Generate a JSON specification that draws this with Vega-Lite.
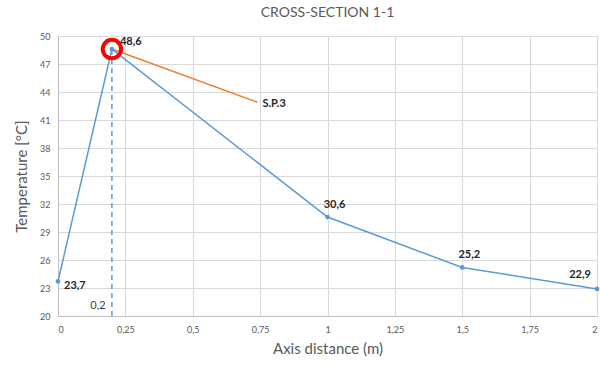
{
  "$schema": "https://vega.github.io/schema/vega-lite/v6.json",
  "width": 539,
  "height": 280,
  "autosize": {"type": "none"},
  "padding": {"left": 58, "top": 36, "right": 3, "bottom": 49},
  "background": "white",
  "title": {"text": "CROSS-SECTION 1-1", "fontSize": 14, "font": "Lato", "fontWeight": "normal", "color": "#595959", "offset": 12},
  "datasets": {
    "main": [
      {"x": 0, "t": 23.7},
      {"x": 0.2, "t": 48.6},
      {"x": 1, "t": 30.6},
      {"x": 1.5, "t": 25.2},
      {"x": 2, "t": 22.9}
    ],
    "sp": [
      {"x": 0.2, "t": 48.6, "name": ""},
      {"x": 0.74, "t": 42.9, "name": "S.P.3"}
    ],
    "dash": [
      {"x": 0.2, "t0": 20, "t1": 48.6, "name": "0,2"}
    ]
  },
  "encoding": {
    "x": {"field": "x", "type": "quantitative", "scale": {"domain": [0, 2], "nice": false},
      "axis": {"title": "Axis distance (m)", "values": [0, 0.25, 0.5, 0.75, 1, 1.25, 1.5, 1.75, 2], "format": ".2~f", "labelPadding": 9, "titlePadding": 7}},
    "y": {"field": "t", "type": "quantitative", "scale": {"domain": [20, 50], "nice": false, "zero": false},
      "axis": {"title": "Temperature [°C]", "values": [20, 23, 26, 29, 32, 35, 38, 41, 44, 47, 50], "labelPadding": 8, "titlePadding": 10}}
  },
  "layer": [
    {
      "data": {"name": "dash"},
      "mark": {"type": "rule", "color": "#5b9bd5", "strokeWidth": 1.5, "strokeDash": [5, 4]},
      "encoding": {"y": {"field": "t0", "type": "quantitative"}, "y2": {"field": "t1"}}
    },
    {
      "data": {"name": "dash"},
      "mark": {"type": "text", "font": "Lato", "fontSize": 11, "color": "#404040", "align": "center", "dx": -14, "dy": -10},
      "encoding": {"y": {"field": "t0", "type": "quantitative"}, "text": {"field": "name"}}
    },
    {
      "data": {"name": "sp"},
      "mark": {"type": "line", "color": "#ed7d31", "strokeWidth": 1.5}
    },
    {
      "data": {"name": "sp"},
      "mark": {"type": "text", "font": "Lato", "fontSize": 11, "fontWeight": "bold", "color": "#262626", "align": "left", "dx": 5, "dy": 2},
      "encoding": {"text": {"field": "name"}}
    },
    {
      "data": {"name": "main"},
      "mark": {"type": "line", "color": "#5b9bd5", "strokeWidth": 1.5, "point": {"filled": true, "size": 22, "color": "#5b9bd5"}}
    },
    {
      "data": {"name": "main"},
      "transform": [{"filter": "datum.x == 0.2"}],
      "mark": {"type": "point", "shape": "circle", "filled": false, "stroke": "#ff0000", "strokeWidth": 4, "size": 340, "opacity": 1}
    },
    {
      "data": {"name": "main"},
      "transform": [{"filter": "datum.x == 0.2"}],
      "mark": {"type": "text", "font": "Lato", "fontSize": 11, "fontWeight": "bold", "color": "#262626", "align": "left", "dx": 8, "dy": -7},
      "encoding": {"text": {"field": "t", "type": "quantitative", "format": ".1f"}}
    },
    {
      "data": {"name": "main"},
      "transform": [{"filter": "datum.x == 0"}],
      "mark": {"type": "text", "font": "Lato", "fontSize": 11, "fontWeight": "bold", "color": "#262626", "align": "left", "dx": 6, "dy": 5},
      "encoding": {"text": {"field": "t", "type": "quantitative", "format": ".1f"}}
    },
    {
      "data": {"name": "main"},
      "transform": [{"filter": "datum.x == 1 || datum.x == 1.5"}],
      "mark": {"type": "text", "font": "Lato", "fontSize": 11, "fontWeight": "bold", "color": "#262626", "align": "center", "dx": 7, "dy": -12},
      "encoding": {"text": {"field": "t", "type": "quantitative", "format": ".1f"}}
    },
    {
      "data": {"name": "main"},
      "transform": [{"filter": "datum.x == 2"}],
      "mark": {"type": "text", "font": "Lato", "fontSize": 11, "fontWeight": "bold", "color": "#262626", "align": "center", "dx": -17, "dy": -14},
      "encoding": {"text": {"field": "t", "type": "quantitative", "format": ".1f"}}
    }
  ],
  "config": {
    "locale": {"number": {"decimal": ",", "thousands": ".", "grouping": [3], "currency": ["", " €"]}},
    "view": {"stroke": "#d9d9d9", "strokeWidth": 1},
    "axis": {
      "font": "Lato",
      "labelFont": "Lato",
      "titleFont": "Lato",
      "labelFontSize": 9,
      "labelColor": "#595959",
      "titleFontSize": 15,
      "titleFontWeight": "normal",
      "titleColor": "#595959",
      "gridColor": "#d9d9d9",
      "gridWidth": 1,
      "gridOpacity": 1,
      "domainColor": "#bfbfbf",
      "ticks": false
    }
  }
}
